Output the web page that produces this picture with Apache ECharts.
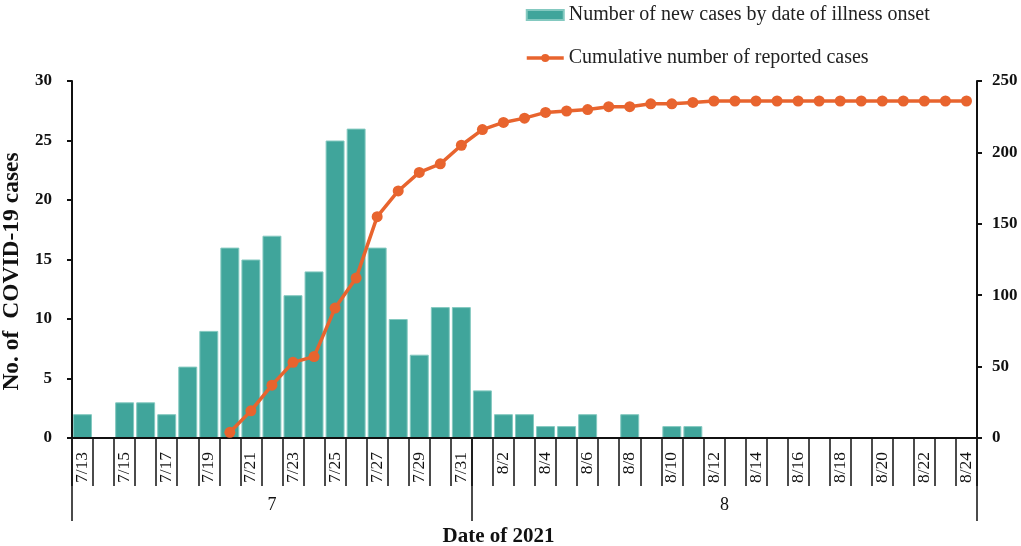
<!DOCTYPE html>
<html>
<head>
<meta charset="utf-8">
<script src="https://cdn.jsdelivr.net/npm/echarts@6/dist/echarts.min.js"></script>
<style>
  html, body { margin: 0; padding: 0; background: #fff; }
  #chart { width: 1021px; height: 546px; }
</style>
</head>
<body>
<div id="chart"></div>
<script>
// dates 7/13 - 8/24
var dates = [
    '7/13','7/14','7/15','7/16','7/17','7/18','7/19','7/20','7/21','7/22',
    '7/23','7/24','7/25','7/26','7/27','7/28','7/29','7/30','7/31',
    '8/1','8/2','8/3','8/4','8/5','8/6','8/7','8/8','8/9','8/10',
    '8/11','8/12','8/13','8/14','8/15','8/16','8/17','8/18','8/19','8/20',
    '8/21','8/22','8/23','8/24'
];
// new cases by onset date
var newCases = [
    2, 0, 3, 3, 2, 6, 9, 16, 15, 17,
    12, 14, 25, 26, 16, 10, 7, 11, 11,
    4, 2, 2, 1, 1, 2, 0, 2, 0, 1,
    1, 0, 0, 0, 0, 0, 0, 0, 0, 0,
    0, 0, 0, 0
];
// cumulative reported
var cumulative = [
    null, null, null, null, null, null, null, 4, 19, 37,
    53, 57, 91, 112, 155, 173, 186, 192, 205,
    216, 221, 224, 228, 229, 230, 232, 232, 234, 234,
    235, 236, 236, 236, 236, 236, 236, 236, 236, 236,
    236, 236, 236, 236
];
// month row under the dates
var monthLabels = { 9: '7', 31: '8' };
var monthStarts = [0, 19];

var serif = 'Liberation Serif';
var black = '#111';
var orange = '#e8642e';

var chart = echarts.init(document.getElementById('chart'));
var option = {
    animation: false,
    textStyle: { fontFamily: serif },
    legend: {
        orient: 'vertical',
        left: 520,
        top: 0,
        itemWidth: 37,
        itemHeight: 10,
        itemGap: 23,
        textStyle: { fontFamily: serif, fontSize: 20, color: '#222' },
        data: [
            { name: 'Number of new cases by date of illness onset', icon: 'rect' },
            { name: 'Cumulative number of reported cases', lineStyle: { width: 3.5 } }
        ]
    },
    grid: { left: 72, right: 44, top: 81, bottom: 108, outerBoundsMode: 'none' },
    xAxis: [{
        type: 'category',
        data: dates,
        boundaryGap: true,
        z: 3,
        axisLine: { show: true, lineStyle: { color: black, width: 2 } },
        axisTick: { show: true, interval: 0, length: 48, lineStyle: { color: black, width: 1.5 } },
        axisLabel: {
            interval: 1,
            rotate: 90,
            margin: 14,
            fontSize: 17.5,
            color: black,
            fontFamily: serif
        }
    }, {
        type: 'category',
        data: dates,
        position: 'bottom',
        boundaryGap: true,
        axisLine: { show: false },
        axisTick: {
            show: true,
            interval: function (index) { return monthStarts.indexOf(index) >= 0; },
            length: 83,
            lineStyle: { color: black, width: 1.5 }
        },
        axisLabel: {
            interval: function (index) { return monthLabels[index] !== undefined; },
            formatter: function (value, index) {
                return index === 31 ? '{m|8}' : (monthLabels[index] || '');
            },
            rich: { m: { fontSize: 18, fontFamily: serif, color: black, padding: [0, 21, 0, 0] } },
            margin: 58,
            fontSize: 18,
            color: black,
            fontFamily: serif
        },
        name: 'Date of 2021',
        nameLocation: 'middle',
        nameGap: 88,
        nameTextStyle: {
            fontSize: 21, fontWeight: 'bold', color: black, fontFamily: serif,
            padding: [0, 52, 0, 0]
        }
    }],
    yAxis: [{
        type: 'value',
        min: 0, max: 30, interval: 5,
        name: 'No. of  COVID-19 cases',
        nameLocation: 'middle',
        nameRotate: 90,
        nameGap: 43,
        nameTextStyle: {
            fontSize: 23.5, fontWeight: 'bold', color: black, fontFamily: serif,
            padding: [0, 24, 0, 0]
        },
        axisLine: { show: true, lineStyle: { color: black, width: 2 } },
        axisTick: { show: true, length: 5, lineStyle: { color: black, width: 2 } },
        axisLabel: { fontSize: 17, fontWeight: 'bold', color: black, margin: 20, fontFamily: serif },
        splitLine: { show: false }
    }, {
        type: 'value',
        min: 0, max: 250, interval: 50,
        position: 'right',
        axisLine: { show: true, lineStyle: { color: black, width: 2 } },
        axisTick: { show: true, length: 5, lineStyle: { color: black, width: 2 } },
        axisLabel: { fontSize: 17, fontWeight: 'bold', color: black, margin: 15, fontFamily: serif },
        splitLine: { show: false }
    }],
    series: [{
        name: 'Number of new cases by date of illness onset',
        type: 'bar',
        data: newCases,
        barCategoryGap: '10%',
        itemStyle: { color: '#40a59b', borderColor: '#84c9c0', borderWidth: 1 }
    }, {
        name: 'Cumulative number of reported cases',
        type: 'line',
        yAxisIndex: 1,
        data: cumulative,
        symbol: 'circle',
        symbolSize: 11,
        lineStyle: { color: orange, width: 3.5 },
        itemStyle: { color: orange },
        z: 5
    }]
};
chart.setOption(option);
</script>
</body>
</html>
